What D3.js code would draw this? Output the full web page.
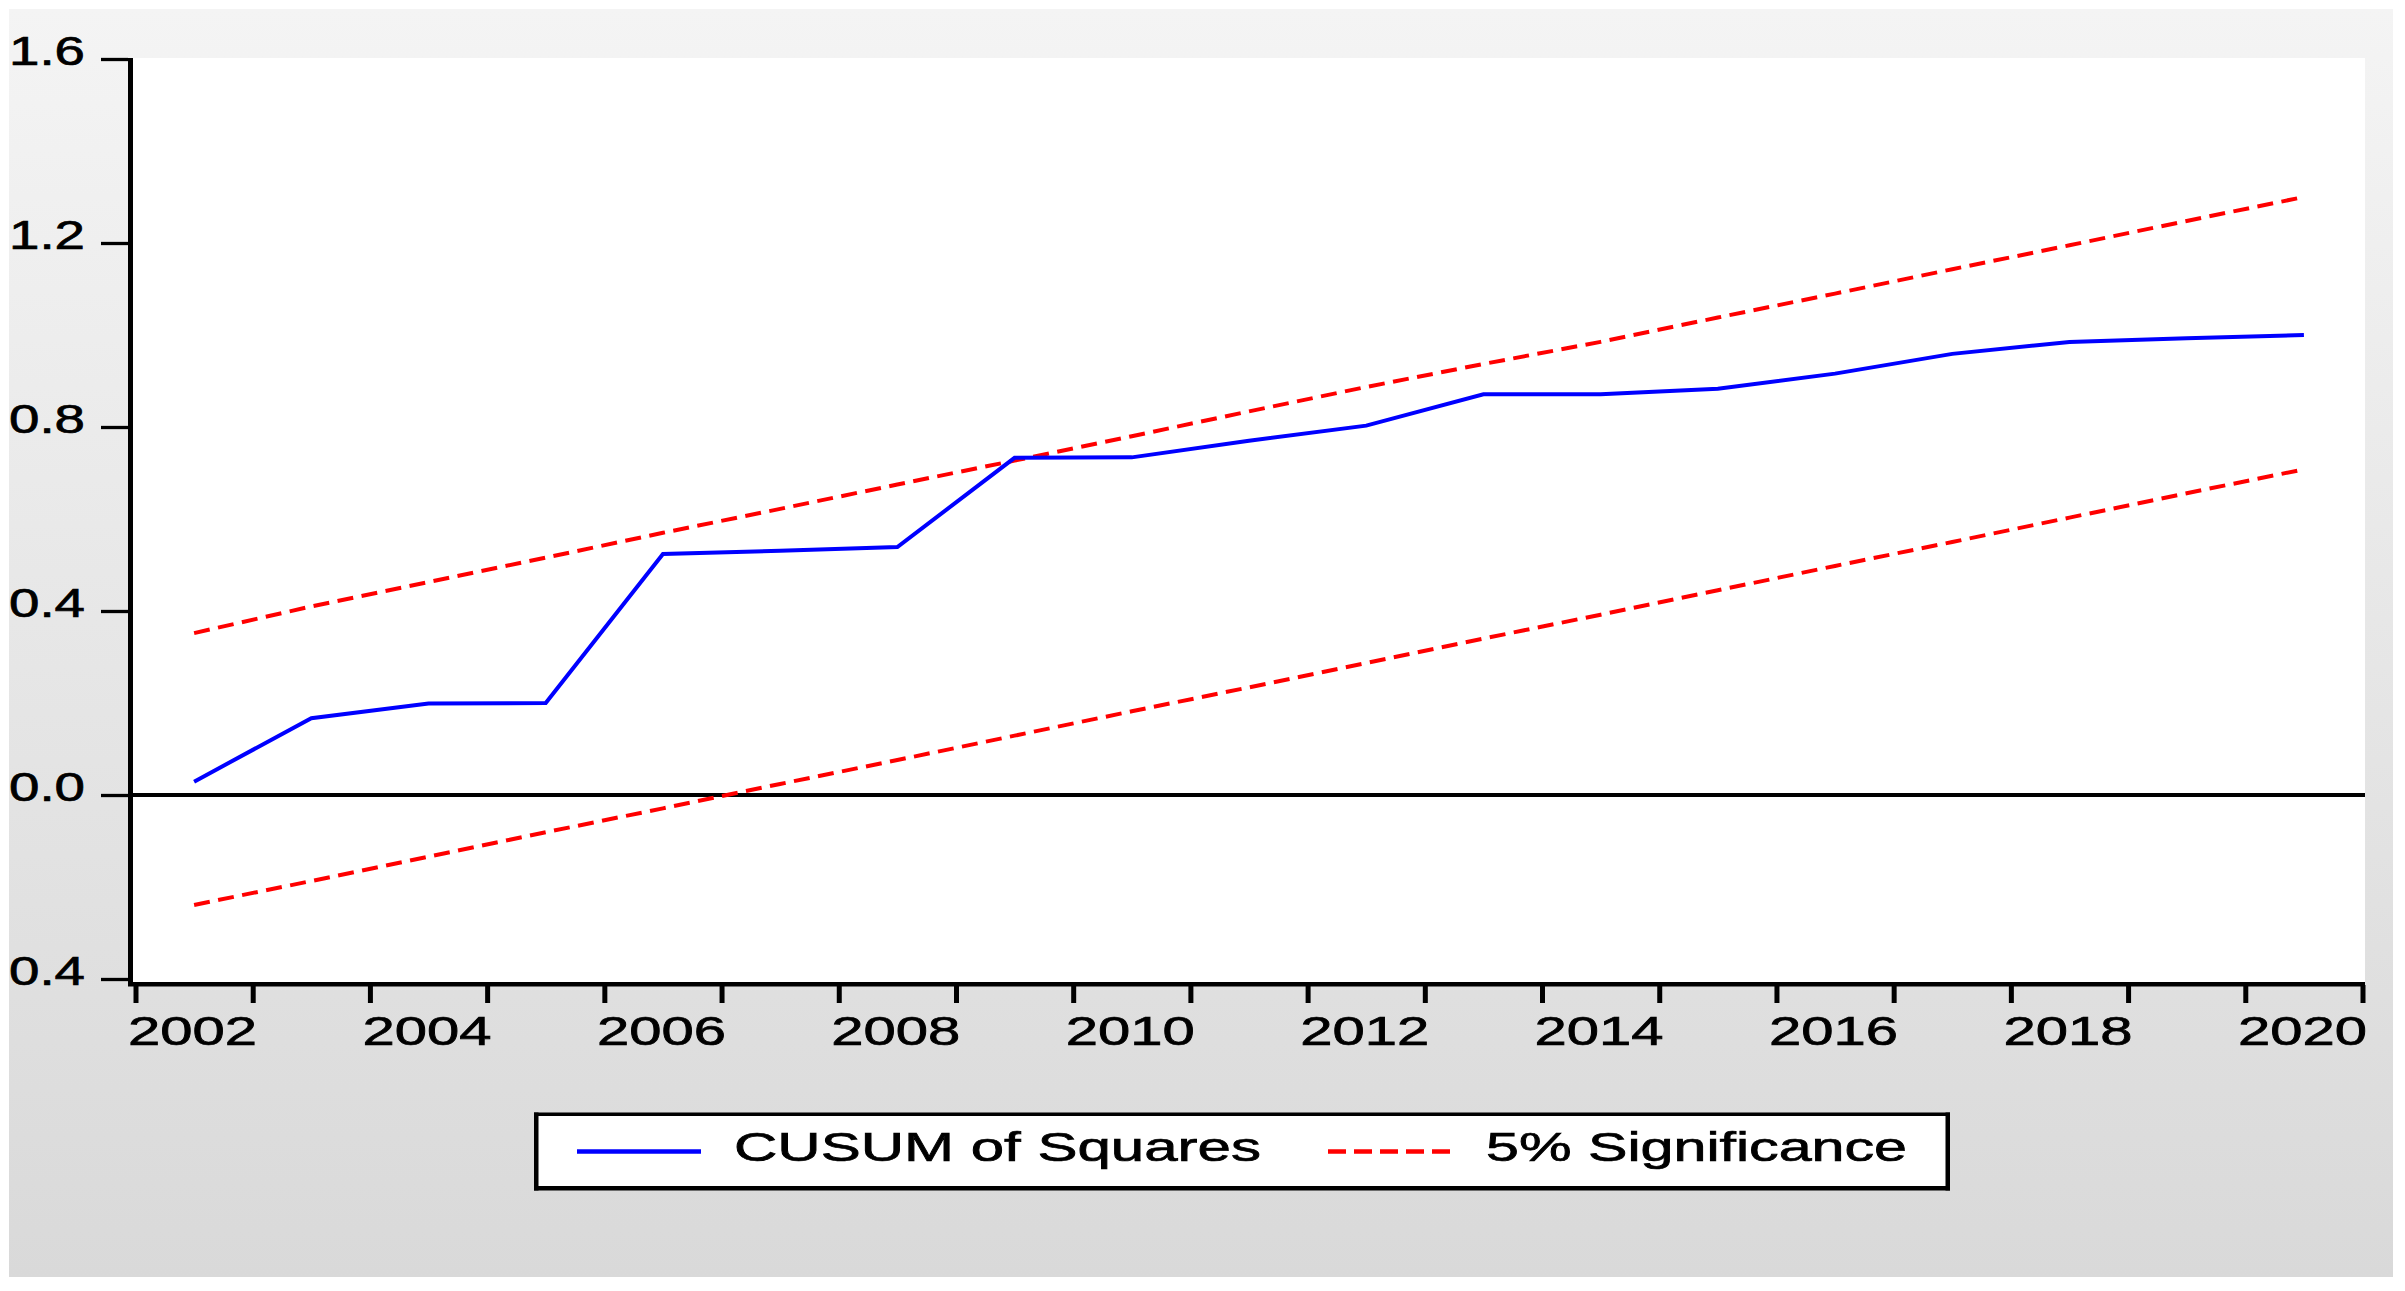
<!DOCTYPE html>
<html>
<head>
<meta charset="utf-8">
<script src="https://cdn.jsdelivr.net/npm/d3@7"></script>
<style>
  html, body { margin: 0; padding: 0; background: #ffffff; }
  svg { display: block; }
  text { font-family: "Liberation Sans", Arial, sans-serif; fill: #000; stroke: #000; stroke-width: 0.7px; }
</style>
</head>
<body>
<svg id="chart" width="2405" height="1291"></svg>
<script>
// ---------------- data ----------------
const years = [2002, 2003, 2004, 2005, 2006, 2007, 2008, 2009, 2010, 2011,
               2012, 2013, 2014, 2015, 2016, 2017, 2018, 2019, 2020];
const cusumSquares = [0.029, 0.167, 0.199, 0.200, 0.524, 0.531, 0.539, 0.733, 0.734, 0.770,
                      0.803, 0.871, 0.871, 0.883, 0.916, 0.959, 0.985, 0.993, 1.000];
const upperBound = [0.352, 0.410, 0.463, 0.516, 0.570, 0.622, 0.675, 0.727, 0.780, 0.834,
                    0.887, 0.937, 0.985, 1.038, 1.090, 1.143, 1.195, 1.248, 1.300];
const lowerBound = [-0.239, -0.187, -0.134, -0.081, -0.029, 0.024, 0.076, 0.129, 0.182, 0.234,
                    0.287, 0.340, 0.392, 0.445, 0.498, 0.550, 0.603, 0.656, 0.708];
const yTickValues = [-0.4, 0.0, 0.4, 0.8, 1.2, 1.6];
const yTickLabels = ["0.4", "0.0", "0.4", "0.8", "1.2", "1.6"];
const xTickYears = [2002, 2003, 2004, 2005, 2006, 2007, 2008, 2009, 2010, 2011, 2012,
                    2013, 2014, 2015, 2016, 2017, 2018, 2019, 2020, 2021];
const xLabelYears = [2002, 2004, 2006, 2008, 2010, 2012, 2014, 2016, 2018, 2020];
const seriesNames = ["CUSUM of Squares", "5% Significance"];

// ---------------- drawing ----------------
const svg = d3.select("#chart");
const defs = svg.append("defs");
const grad = defs.append("linearGradient").attr("id", "bg")
  .attr("x1", 0).attr("y1", 0).attr("x2", 0).attr("y2", 1);
grad.append("stop").attr("offset", "0%").attr("stop-color", "#f4f4f4");
grad.append("stop").attr("offset", "100%").attr("stop-color", "#d9d9d9");

svg.append("rect").attr("x", 0).attr("y", 0).attr("width", 2405).attr("height", 1291).attr("fill", "#fff");
svg.append("rect").attr("x", 9).attr("y", 9).attr("width", 2384).attr("height", 1268).attr("fill", "url(#bg)");

// plot area
const plotL = 133, plotR = 2365, plotT = 58, plotB = 984;
svg.append("rect").attr("x", plotL).attr("y", plotT)
  .attr("width", plotR - plotL).attr("height", plotB - plotT).attr("fill", "#fff");

const x = d3.scaleLinear().domain([2002, 2021]).range([135.5, 2362.5]);
const y = d3.scaleLinear().domain([-0.4, 1.6]).range([979, 59]);

// zero line
svg.append("line").attr("x1", plotL).attr("x2", plotR)
  .attr("y1", y(0)).attr("y2", y(0))
  .attr("stroke", "#000").attr("stroke-width", 4);

// lines
const mk = arr => years.map((yr, i) => ({ year: yr, v: arr[i] }));
const line = d3.line().x(d => x(d.year + 0.5)).y(d => y(d.v));

svg.append("path").datum(mk(upperBound)).attr("d", line)
  .attr("fill", "none").attr("stroke", "#ff0000").attr("stroke-width", 4)
  .attr("stroke-dasharray", "16,8.5");
svg.append("path").datum(mk(lowerBound)).attr("d", line)
  .attr("fill", "none").attr("stroke", "#ff0000").attr("stroke-width", 4)
  .attr("stroke-dasharray", "16,8.5");
svg.append("path").datum(mk(cusumSquares)).attr("d", line)
  .attr("fill", "none").attr("stroke", "#0000ff").attr("stroke-width", 4);

// y axis
const yAxis = svg.append("g").attr("transform", "translate(128,0)")
  .call(d3.axisLeft(y).tickValues(yTickValues).tickSize(27).tickSizeOuter(0).tickFormat(""));
yAxis.select(".domain").remove();
yAxis.selectAll(".tick line").attr("stroke", "#000").attr("stroke-width", 3.3);

svg.append("g").selectAll("text").data(yTickValues).join("text")
  .attr("x", 85).attr("y", d => y(d) + 5.5)
  .attr("text-anchor", "end")
  .attr("font-size", 40)
  .attr("textLength", 76).attr("lengthAdjust", "spacingAndGlyphs")
  .text((d, i) => yTickLabels[i]);

// x axis
const xAxis = svg.append("g").attr("transform", "translate(0,985)")
  .call(d3.axisBottom(x).tickValues(xTickYears).tickSize(18).tickSizeOuter(0).tickFormat(""));
xAxis.select(".domain").remove();
xAxis.selectAll(".tick line").attr("stroke", "#000").attr("stroke-width", 5);

svg.append("g").selectAll("text").data(xLabelYears).join("text")
  .attr("x", d => x(d + 0.5) - 1.5).attr("y", 1045)
  .attr("text-anchor", "middle")
  .attr("font-size", 40)
  .attr("textLength", 129).attr("lengthAdjust", "spacingAndGlyphs")
  .text(d => String(d));

// axis lines
svg.append("rect").attr("x", 128).attr("y", 58).attr("width", 5).attr("height", 928).attr("fill", "#000");
svg.append("rect").attr("x", 128).attr("y", 982).attr("width", 2237).attr("height", 4.5).attr("fill", "#000");

// legend
const lg = svg.append("g");
lg.append("rect").attr("x", 534).attr("y", 1113).attr("width", 1416).attr("height", 77).attr("fill", "#fff");
lg.append("rect").attr("x", 534).attr("y", 1112.5).attr("width", 1416).attr("height", 3.5).attr("fill", "#000");
lg.append("rect").attr("x", 534).attr("y", 1186).attr("width", 1416).attr("height", 4.5).attr("fill", "#000");
lg.append("rect").attr("x", 534).attr("y", 1112.5).attr("width", 4.5).attr("height", 78).attr("fill", "#000");
lg.append("rect").attr("x", 1945.5).attr("y", 1112.5).attr("width", 4.5).attr("height", 78).attr("fill", "#000");

lg.append("line").attr("x1", 577).attr("x2", 701).attr("y1", 1151.5).attr("y2", 1151.5)
  .attr("stroke", "#0000ff").attr("stroke-width", 4.5);
lg.append("line").attr("x1", 1328).attr("x2", 1452).attr("y1", 1151.5).attr("y2", 1151.5)
  .attr("stroke", "#ff0000").attr("stroke-width", 4.5).attr("stroke-dasharray", "18,8");

lg.append("text").attr("x", 734).attr("y", 1161).attr("font-size", 40)
  .attr("textLength", 527).attr("lengthAdjust", "spacingAndGlyphs").text(seriesNames[0]);
lg.append("text").attr("x", 1486).attr("y", 1161).attr("font-size", 40)
  .attr("textLength", 421).attr("lengthAdjust", "spacingAndGlyphs").text(seriesNames[1]);
</script>
</body>
</html>
